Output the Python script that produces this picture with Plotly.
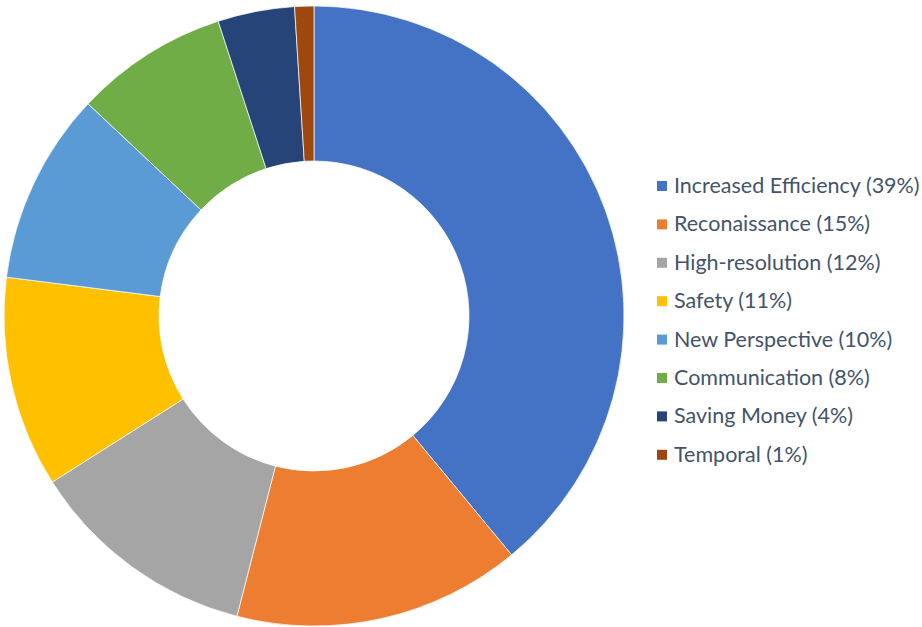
import plotly.graph_objects as go

# Reasons for using the technology, share of responses
labels = ["Increased Efficiency", "Reconaissance", "High-resolution", "Safety",
          "New Perspective", "Communication", "Saving Money", "Temporal"]
shares = [39, 15, 12, 11, 10, 8, 4, 1]
colors = ["#4472C4", "#ED7D31", "#A5A5A5", "#FFC000",
          "#5B9BD5", "#70AD47", "#264478", "#9E480E"]

W, H = 922, 627

fig = go.Figure(go.Pie(
    labels=labels,
    values=shares,
    hole=0.5,
    sort=False,
    direction="clockwise",
    rotation=0,
    textinfo="none",
    marker=dict(colors=colors, line=dict(color="rgba(255,255,255,0.7)", width=1)),
    domain=dict(x=[4 / W, 624 / W], y=[1 / H, 621 / H]),
    showlegend=False,
))

# Legend drawn as squares plus text on the right
legend_x = 657
legend_top = 186
legend_step = 38.4
for i, (lab, val, col) in enumerate(zip(labels, shares, colors)):
    yc = legend_top + i * legend_step
    fig.add_shape(type="rect", xref="paper", yref="paper",
                  x0=legend_x / W, x1=(legend_x + 10) / W,
                  y0=1 - (yc + 5) / H, y1=1 - (yc - 5) / H,
                  fillcolor=col, line=dict(width=0))
    fig.add_annotation(xref="paper", yref="paper",
                       x=(legend_x + 15) / W, y=1 - (yc - 1) / H,
                       xanchor="left", yanchor="middle", showarrow=False,
                       text=f"{lab} ({val}%)",
                       font=dict(family="Lato", size=21.5, color="#44546A"))

fig.update_layout(
    width=W, height=H,
    margin=dict(l=0, r=0, t=0, b=0),
    paper_bgcolor="white",
    plot_bgcolor="white",
)

fig.write_html("out.html")
